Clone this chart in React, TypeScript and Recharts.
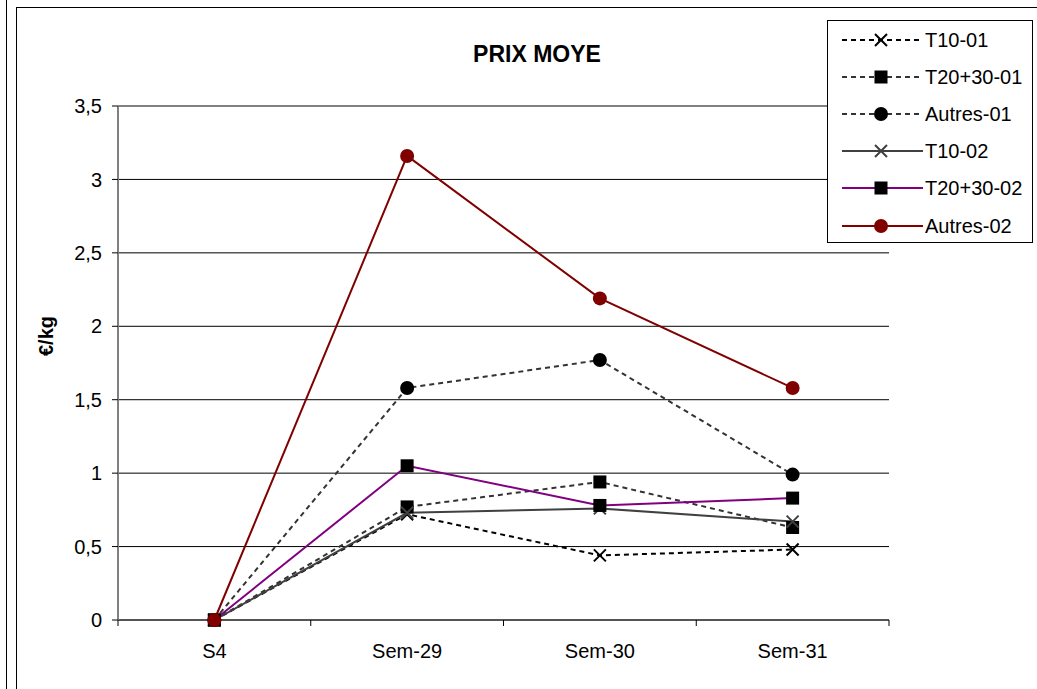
import React from 'react';
import { LineChart, Line, XAxis, YAxis, CartesianGrid, Legend, ReferenceLine } from 'recharts';

const weeks = ['S4', 'Sem-29', 'Sem-30', 'Sem-31'];
const t10_01 = [0, 0.72, 0.44, 0.48];
const t2030_01 = [0, 0.77, 0.94, 0.63];
const autres_01 = [0, 1.58, 1.77, 0.99];
const t10_02 = [0, 0.73, 0.76, 0.67];
const t2030_02 = [0, 1.05, 0.78, 0.83];
const autres_02 = [0, 3.16, 2.19, 1.58];
const yTicks = [0, 0.5, 1, 1.5, 2, 2.5, 3, 3.5];

const data = weeks.map((week, i) => ({
  week,
  t10_01: t10_01[i],
  t2030_01: t2030_01[i],
  autres_01: autres_01[i],
  t10_02: t10_02[i],
  t2030_02: t2030_02[i],
  autres_02: autres_02[i],
}));

const W = 1037;
const H = 689;
const M = { top: 106, right: 148, left: 0, bottom: 19 };
const Y_W = 118;
const PLOT_W = W - Y_W - M.right;
const HALF = PLOT_W / weeks.length / 2;
const FONT = '"Liberation Sans", Arial, sans-serif';
const DASH = '5 4';

type Kind = 'x' | 'square' | 'circle';

interface SeriesDef {
  key: string;
  name: string;
  stroke: string;
  dash?: string;
  marker: Kind;
  markerColor: string;
}

const series: SeriesDef[] = [
  { key: 't10_01', name: 'T10-01', stroke: '#000000', dash: DASH, marker: 'x', markerColor: '#000000' },
  { key: 't2030_01', name: 'T20+30-01', stroke: '#333333', dash: DASH, marker: 'square', markerColor: '#000000' },
  { key: 'autres_01', name: 'Autres-01', stroke: '#333333', dash: DASH, marker: 'circle', markerColor: '#000000' },
  { key: 't10_02', name: 'T10-02', stroke: '#404040', marker: 'x', markerColor: '#404040' },
  { key: 't2030_02', name: 'T20+30-02', stroke: '#800080', marker: 'square', markerColor: '#000000' },
  { key: 'autres_02', name: 'Autres-02', stroke: '#800000', marker: 'circle', markerColor: '#800000' },
];

const Marker = ({ kind, cx, cy, color }: { kind: Kind; cx: number; cy: number; color: string }) => {
  if (kind === 'x') {
    const s = 6;
    return (
      <path
        d={`M${cx - s},${cy - s}L${cx + s},${cy + s}M${cx - s},${cy + s}L${cx + s},${cy - s}`}
        stroke={color}
        strokeWidth={2}
        fill="none"
      />
    );
  }
  if (kind === 'square') {
    return <rect x={cx - 6.5} y={cy - 6.5} width={13} height={13} fill={color} />;
  }
  return <circle cx={cx} cy={cy} r={7} fill={color} />;
};

const makeDot = (s: SeriesDef) => (p: any) => {
  if (p.cx == null || p.cy == null) return <g key={`${s.key}-${p.index}`} />;
  return (
    <g key={`${s.key}-${p.index}`}>
      <Marker kind={s.marker} cx={p.cx} cy={p.cy} color={s.markerColor} />
    </g>
  );
};

const WeekTick = (props: any) => {
  const { x, y, payload, index } = props;
  return (
    <g>
      <line x1={x - HALF} y1={y - 8} x2={x - HALF} y2={y - 2} stroke="#000" strokeWidth={1} />
      {index === weeks.length - 1 && (
        <line x1={x + HALF} y1={y - 8} x2={x + HALF} y2={y - 2} stroke="#000" strokeWidth={1} />
      )}
      <text x={x} y={y + 30} textAnchor="middle" fontSize={20} fill="#000" fontFamily={FONT}>
        {payload.value}
      </text>
    </g>
  );
};

const LegendBox = () => (
  <div
    style={{
      width: 206,
      height: 223,
      border: '1px solid #000',
      background: '#fff',
      boxSizing: 'border-box',
      paddingTop: 0,
      fontFamily: FONT,
    }}
  >
    {series.map((s) => (
      <div key={s.key} style={{ display: 'flex', alignItems: 'center', height: 37.2 }}>
        <svg width={97} height={20} style={{ flex: 'none' }}>
          <line x1={14} y1={10} x2={95} y2={10} stroke={s.stroke} strokeWidth={2} strokeDasharray={s.dash} />
          <Marker kind={s.marker} cx={53} cy={10} color={s.markerColor} />
        </svg>
        <span style={{ fontSize: 20, color: '#000', lineHeight: '20px' }}>{s.name}</span>
      </div>
    ))}
  </div>
);

export default function App() {
  return (
    <div
      style={{
        position: 'absolute',
        left: 0,
        top: 0,
        width: W,
        height: H,
        overflow: 'hidden',
        background: '#fff',
        fontFamily: FONT,
      }}
    >
      {/* outer page borders */}
      <div style={{ position: 'absolute', left: 6, top: 0, width: 0, height: H, borderLeft: '1px solid #000' }} />
      <div
        style={{
          position: 'absolute',
          left: 16,
          top: 7,
          width: 1200,
          height: 900,
          border: '1px solid #000',
        }}
      />

      <div style={{ position: 'absolute', left: 0, top: 0 }}>
        <LineChart width={W} height={H} data={data} margin={M}>
          <CartesianGrid vertical={false} stroke="#000" strokeWidth={1} />
          <XAxis
            dataKey="week"
            scale="point"
            padding={{ left: HALF, right: HALF }}
            height={50}
            tickLine={false}
            tick={<WeekTick />}
            axisLine={{ stroke: '#555', strokeWidth: 2 }}
            interval={0}
          />
          <YAxis
            width={Y_W}
            domain={[0, 3.5]}
            ticks={yTicks}
            interval={0}
            tickFormatter={(v: number) => String(v).replace('.', ',')}
            tick={{ fontSize: 20, fill: '#000', fontFamily: FONT }}
            tickLine={{ stroke: '#000' }}
            tickSize={6}
            tickMargin={10}
            axisLine={{ stroke: '#808080', strokeWidth: 2 }}
          />
          <YAxis
            yAxisId="right"
            orientation="right"
            width={0}
            domain={[0, 3.5]}
            tick={false}
            tickLine={false}
            axisLine={{ stroke: '#808080', strokeWidth: 2 }}
          />
          <ReferenceLine y={3.5} stroke="#808080" strokeWidth={2} />
          <Legend
            layout="horizontal"
            verticalAlign="middle"
            align="center"
            content={() => <LegendBox />}
            wrapperStyle={{ position: 'absolute', left: 827, top: 20, width: 206, height: 223 }}
          />
          {series.map((s) => (
            <Line
              key={s.key}
              type="linear"
              dataKey={s.key}
              name={s.name}
              stroke={s.stroke}
              strokeWidth={2}
              strokeDasharray={s.dash}
              dot={makeDot(s)}
              activeDot={false}
              isAnimationActive={false}
            />
          ))}
        </LineChart>
      </div>

      <div
        style={{
          position: 'absolute',
          left: 387,
          top: 43,
          width: 300,
          textAlign: 'center',
          fontSize: 23,
          lineHeight: '23px',
          fontWeight: 'bold',
          color: '#000',
        }}
      >
        PRIX MOYE
      </div>

      <div
        style={{
          position: 'absolute',
          left: 46,
          top: 336,
          transform: 'translate(-50%, -50%) rotate(-90deg)',
          fontSize: 20,
          lineHeight: '20px',
          fontWeight: 'bold',
          color: '#000',
          whiteSpace: 'nowrap',
        }}
      >
        €/kg
      </div>
    </div>
  );
}
